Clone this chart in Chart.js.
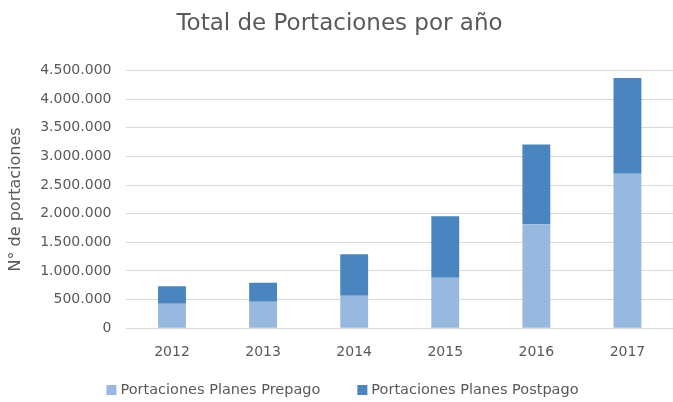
<!DOCTYPE html>
<html>
<head>
<meta charset="utf-8">
<script src="https://cdn.jsdelivr.net/npm/chart.js@4"></script>
<style>
  html, body { margin: 0; padding: 0; background: #fff; }
  #wrap { width: 673px; height: 402px; }
</style>
</head>
<body>
<div id="wrap"><canvas id="chart"></canvas></div>
<script>
const years = ['2012', '2013', '2014', '2015', '2016', '2017'];
const prepago = [428000, 463000, 567000, 880000, 1818000, 2698000];
const postpago = [307000, 330000, 723000, 1077000, 1389000, 1674000];

const fmt = v => String(v).replace(/\B(?=(\d{3})+(?!\d))/g, '.');
const font = '"DejaVu Sans", sans-serif';
const textColor = '#595959';

// legend drawn by hand so the gap between items can differ from its height
const bottomLegend = {
  id: 'bottomLegend',
  afterDraw(chart) {
    const ctx = chart.ctx;
    const sets = chart.data.datasets;
    const box = 10, gap = 4, spacing = 37, y = 390;
    ctx.save();
    ctx.font = '14.5px ' + font;
    ctx.textBaseline = 'middle';
    const widths = sets.map(ds => box + gap + ctx.measureText(ds.label).width);
    const total = widths.reduce((a, b) => a + b, 0) + spacing * (sets.length - 1);
    let x = (chart.width - total) / 2 + 6;
    sets.forEach((ds, i) => {
      ctx.fillStyle = ds.backgroundColor;
      ctx.fillRect(x, y - box / 2, box, box);
      ctx.fillStyle = textColor;
      ctx.fillText(ds.label, x + box + gap, y);
      x += widths[i] + spacing;
    });
    ctx.restore();
  }
};

new Chart(document.getElementById('chart'), {
  type: 'bar',
  data: {
    labels: years,
    datasets: [
      { label: 'Portaciones Planes Prepago', data: prepago, backgroundColor: '#97b9e0' },
      { label: 'Portaciones Planes Postpago', data: postpago, backgroundColor: '#4a85bf' }
    ]
  },
  options: {
    responsive: true,
    maintainAspectRatio: false,
    animation: false,
    layout: { padding: { left: 6, right: 0, top: 0, bottom: 33 } },
    datasets: { bar: { categoryPercentage: 1, barPercentage: 0.306 } },
    scales: {
      x: {
        stacked: true,
        grid: { display: false },
        border: { display: false },
        ticks: { color: textColor, font: { family: font, size: 14 }, padding: 8 }
      },
      y: {
        stacked: true,
        min: 0,
        max: 4500000,
        grid: { color: '#d9d9d9', drawTicks: false },
        border: { display: false },
        ticks: {
          stepSize: 500000,
          color: textColor,
          font: { family: font, size: 14 },
          padding: 15,
          callback: v => fmt(v)
        },
        title: {
          display: true,
          text: 'N° de portaciones',
          color: textColor,
          font: { family: font, size: 16 },
          padding: { top: 0, bottom: 0 }
        }
      }
    },
    plugins: {
      title: {
        display: true,
        text: 'Total de Portaciones por año',
        color: textColor,
        font: { family: font, size: 23, weight: 'normal' },
        padding: { top: 10, bottom: 33 }
      },
      legend: { display: false },
      tooltip: { enabled: false }
    }
  },
  plugins: [bottomLegend]
});
</script>
</body>
</html>
